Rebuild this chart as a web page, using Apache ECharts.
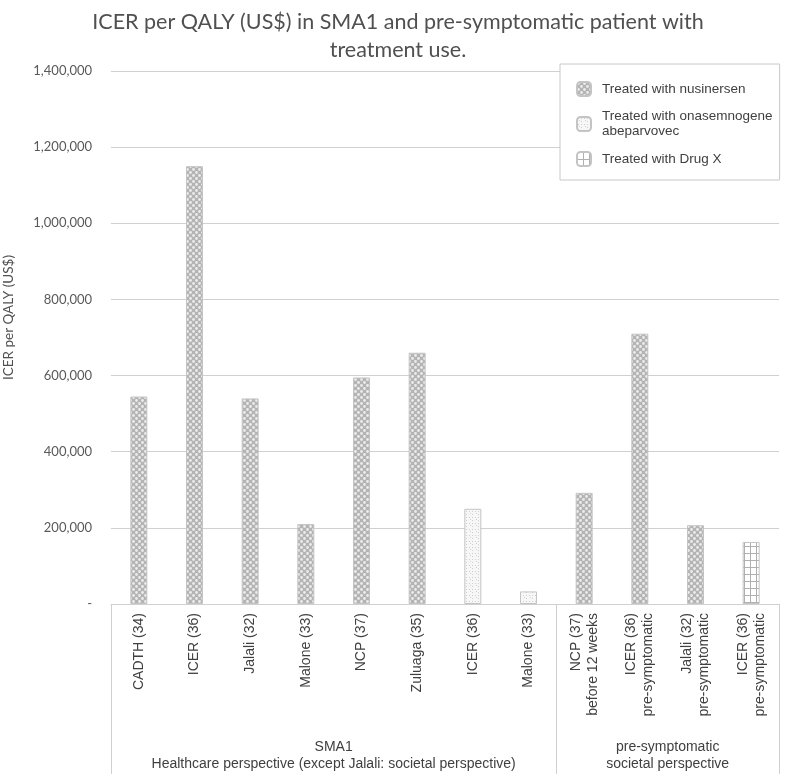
<!DOCTYPE html>
<html><head><meta charset="utf-8">
<script src="https://cdn.jsdelivr.net/npm/echarts@6/dist/echarts.min.js"></script>
<style>html,body{margin:0;padding:0;background:#fff}#c{width:796px;height:774px}</style>
</head><body><div id="c"></div>
<script>
const categories = ['CADTH (34)','ICER (36)','Jalali (32)','Malone (33)','NCP (37)','Zuluaga (35)','ICER (36)','Malone (33)',
  'NCP (37)\nbefore 12 weeks','ICER (36)\npre-symptomatic','Jalali (32)\npre-symptomatic','ICER (36)\npre-symptomatic'];
const nusinersen   = [545000,1150000,540000,210000,595000,660000,null,null,292000,710000,207000,null];
const onasemnogene = [null,null,null,null,null,null,250000,33000,null,null,null,null];
const drugX        = [null,null,null,null,null,null,null,null,null,null,null,163000];
const seriesNames = ['Treated with nusinersen','Treated with onasemnogene\nabeparvovec','Treated with Drug X'];
const groupLabels = ['SMA1\nHealthcare perspective (except Jalali: societal perspective)','pre-symptomatic\nsocietal perspective'];
const groupStarts = [0, 8];
const yMin = 0, yMax = 1400000, yStep = 200000;

function pattern(kind){
  const c = document.createElement('canvas');
  const ctx = c.getContext('2d');
  if(kind==='dots'){
    c.width=6;c.height=6;
    ctx.fillStyle='#b4b4b4';ctx.fillRect(0,0,6,6);
    ctx.fillStyle='#ebebeb';
    ctx.beginPath();ctx.arc(1.5,1.5,1.4,0,Math.PI*2);ctx.fill();
    ctx.beginPath();ctx.arc(4.5,4.5,1.4,0,Math.PI*2);ctx.fill();
  } else if(kind==='light'){
    c.width=6;c.height=6;
    ctx.fillStyle='#f7f7f7';ctx.fillRect(0,0,6,6);
    ctx.fillStyle='#cfcfcf';
    ctx.fillRect(1,1,1,1);ctx.fillRect(4,4,1,1);ctx.fillRect(4,1,1,1);ctx.fillRect(2,3,1,1);
  } else {
    c.width=6;c.height=7;
    ctx.fillStyle='#ffffff';ctx.fillRect(0,0,6,7);
    ctx.fillStyle='#b0b0b0';
    ctx.fillRect(0,0,6,1);ctx.fillRect(0,0,1,7);
  }
  return {image:c, repeat:'repeat'};
}
const fills = [pattern('dots'), pattern('light'), pattern('grid')];
const dataSets = [nusinersen, onasemnogene, drugX];

const chart = echarts.init(document.getElementById('c'), null, {renderer:'canvas'});
const option = {
  animation:false,
  backgroundColor:'#fff',
  title:{
    text:'ICER per QALY (US$) in SMA1 and pre-symptomatic patient with\ntreatment use.',
    left:'center', top:3,
    textStyle:{fontFamily:'Lato', fontSize:21.5, fontWeight:'normal', color:'#505050', lineHeight:28}
  },
  legend:{
    orient:'vertical', left:560, top:64,
    padding:[17,7,13,16], itemGap:12,
    itemWidth:14, itemHeight:14,
    backgroundColor:'#fff', borderColor:'#c8c8c8', borderWidth:1,
    textStyle:{fontFamily:'Liberation Sans', fontSize:13.5, color:'#404040', lineHeight:15, padding:[0,0,0,6]},
    data:seriesNames
  },
  grid:{left:111, right:17, top:71, bottom:170, containLabel:false, outerBoundsMode:'none'},
  xAxis:{
    type:'category', data:categories,
    axisLine:{show:true, lineStyle:{color:'#d0d0d0'}},
    axisTick:{show:false},
    axisLabel:{rotate:90, interval:0, margin:9, fontFamily:'Liberation Sans', fontSize:14, color:'#404040', lineHeight:17}
  },
  yAxis:{
    type:'value', min:yMin, max:yMax, interval:yStep,
    name:'ICER per QALY (US$)', nameLocation:'middle', nameGap:95,
    nameTextStyle:{fontFamily:'Lato', fontSize:13.5, color:'#505050', padding:[0,0,0,40]},
    axisLine:{show:false}, axisTick:{show:false},
    splitLine:{lineStyle:{color:'#d0d0d0'}},
    axisLabel:{fontFamily:'Lato', fontSize:13, color:'#595959', margin:19,
      formatter:v => v===0 ? '-' : v.toLocaleString('en-US')}
  },
  series: dataSets.map((d,i)=>({
    name:seriesNames[i], type:'bar', stack:'all', data:d, barWidth:17,
    itemStyle:{color:fills[i], borderColor:'#c4c4c4', borderWidth:1}
  }))
};
chart.setOption(option);

// group frame and labels under the category axis
const p0 = chart.convertToPixel({xAxisIndex:0}, 0);
const p1 = chart.convertToPixel({xAxisIndex:0}, 1);
const band = p1 - p0;
const axisY = chart.convertToPixel({yAxisIndex:0}, 0);
const bounds = groupStarts.concat([categories.length]).map(i => p0 - band/2 + i*band);
const graphics = [];
bounds.forEach(x => graphics.push({type:'line', shape:{x1:Math.round(x)+0.5, y1:axisY, x2:Math.round(x)+0.5, y2:774}, style:{stroke:'#d0d0d0', lineWidth:1}, silent:true}));
groupLabels.forEach((t,gi) => {
  const cx = (bounds[gi]+bounds[gi+1])/2;
  graphics.push({type:'text', x:cx, y:755.5, style:{text:t, x:0, y:0, align:'center', verticalAlign:'middle', fontFamily:'Liberation Sans', fontSize:14, fill:'#404040', lineHeight:17.5}, silent:true});
});
chart.setOption({graphic:graphics});
</script></body></html>
